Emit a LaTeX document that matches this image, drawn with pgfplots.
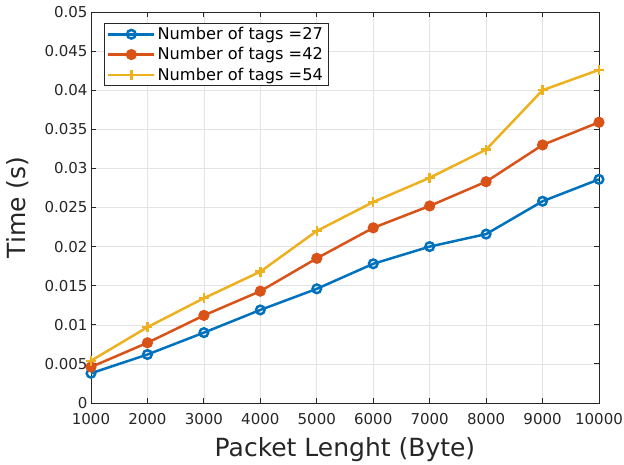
\documentclass[border=0pt]{standalone}
\usepackage{pgfplots}
\pgfplotsset{compat=1.18}
\usepackage{fontspec}
\setmainfont{DejaVu Sans}
\definecolor{mblue}{rgb}{0,0.447,0.741}
\definecolor{mred}{rgb}{0.85,0.325,0.098}
\definecolor{myel}{rgb}{0.929,0.694,0.125}
\definecolor{axc}{rgb}{0.15,0.15,0.15}
\begin{document}
\begin{tikzpicture}
\useasboundingbox (-91pt,-61pt) rectangle (533pt,403pt);
\begin{axis}[
  scale only axis, width=508pt, height=391pt,
  xmin=1000, xmax=10000, ymin=0, ymax=0.05,
  xtick={1000,2000,...,10000},
  ytick={0,0.005,...,0.05},
  scaled ticks=false,
  xticklabel style={/pgf/number format/.cd, fixed, 1000 sep={}},
  yticklabel style={/pgf/number format/.cd, fixed, precision=3},
  /pgf/number format/assume math mode=true,
  tick label style={font=\fontsize{15}{16}\selectfont, text=axc},
  xticklabel shift=7pt,
  label style={font=\fontsize{25}{28}\selectfont, text=axc},
  xlabel={Packet Lenght (Byte)},
  ylabel={Time (s)},
  xlabel style={yshift=-6pt},
  ylabel style={yshift=9pt},
  grid=major,
  major grid style={gray!22, line width=0.6pt},
  axis line style={axc, line width=0.9pt},
  tick style={axc, line width=0.9pt},
  tick align=inside,
  major tick length=5pt,
  legend style={at={(0.025,0.972)}, anchor=north west, draw=axc, line width=0.8pt, inner xsep=3pt, inner ysep=2pt, row sep=2.5pt,
    nodes={font=\fontsize{16.2}{18}\selectfont, text=black}},
  legend cell align=left,
  legend image code/.code={\draw[line width=2.5pt, mark repeat=2,mark phase=2] plot coordinates {(0pt,0pt) (23pt,0pt) (46pt,0pt)};},
  every axis plot/.append style={line width=2.5pt},
]
\addplot[mblue, mark=o, mark size=4.3pt, mark options={line width=2.5pt}] coordinates {
(1000,0.0038) (2000,0.0062) (3000,0.0090) (4000,0.0119) (5000,0.0146) (6000,0.0178) (7000,0.0200) (8000,0.0216) (9000,0.0258) (10000,0.0286)};
\addlegendentry{Number of tags =27}
\addplot[mred, mark=*, mark size=4.3pt] coordinates {
(1000,0.0046) (2000,0.0077) (3000,0.0112) (4000,0.0143) (5000,0.0185) (6000,0.0224) (7000,0.0252) (8000,0.0283) (9000,0.0330) (10000,0.0359)};
\addlegendentry{Number of tags =42}
\addplot[myel, mark=+, mark size=5pt, mark options={line width=2.5pt}] coordinates {
(1000,0.0054) (2000,0.0097) (3000,0.0134) (4000,0.0168) (5000,0.0220) (6000,0.0257) (7000,0.0288) (8000,0.0324) (9000,0.0400) (10000,0.0426)};
\addlegendentry{Number of tags =54}
\end{axis}
\end{tikzpicture}
\end{document}
